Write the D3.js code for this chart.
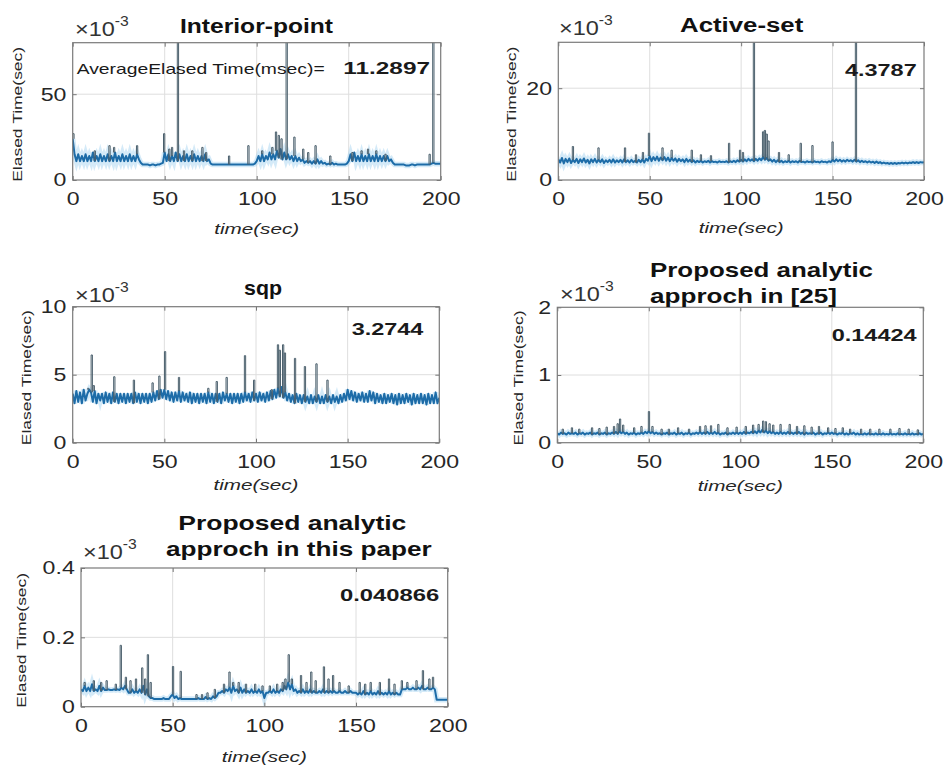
<!DOCTYPE html>
<html>
<head>
<meta charset="utf-8">
<script src="https://cdn.jsdelivr.net/npm/d3@7"></script>
<style>
body{margin:0;background:#fff;}
svg{display:block;font-family:"Liberation Sans",Arial,sans-serif;}
</style>
</head>
<body>
<svg id="graph"></svg>
<script>
// elapsed time per step, units of 1e-3 sec, one sample per second (t = 0..200)
var ipBase = [
 24,15,11,15,11,14,11,15,11,14, 11,16,11,14,11,15,11,14,11,15,
 11,14,11,16,11,14,11,15,11,14, 11,15,11,14,11,15,12,10,9,9,
 9,9,8.5,9,9,8.5,9,9,9.5,10, 16,11,15,11,14,11,16,11,15,11,
 14,11,15,11,14,11,15,11,14,11, 14,11,15,11,12,9.5,9,9,9,9,
 9,9,9,9,9,9,9,9,9,9, 9,9,9,9,9,9,9,9,9,9.5,
 11,14,11,15,11,14,12,16,12,15, 12,17,13,18,12,16,12,15,12,14,
 11,14,11,13,11,12,10,11,10,11, 9.5,11,9.5,12,9.5,11,9.5,10,9,9.5,
 9,10,9,9.5,9,9,9,9,9,9.5, 11,15,11,16,11,14,11,15,11,14,
 11,15,11,14,11,15,11,14,11,14, 11,14,11,12,10,9,9,9,9,9,
 9,8.5,8.5,8.5,9,9,8.5,9,9,9, 9,9,9,9,9,9.5,10,9.5,9.5,9.5,
 9.5];
var ipSpikes = [[0.4,27],[12,17],[20,20],[22.5,19],[35,20],[49.7,27],[52.5,18],[54,19],[57.2,90],
 [60.5,17],[65,17],[70.5,19],[72.5,16],[85,14],[95.5,20],[103,17],[108.5,19],[110.5,28],[112,26],
 [113.5,24],[116.3,90],[120.5,25],[125.3,18],[128,16],[132,20],[140,14],[152,16],[157,17],
 [160.5,18],[165,17],[170,15],[194,15],[196,90]];

var asBase = [
 4.5,3.8,4.8,3.6,4.6,3.9,4.7,3.7,4.4,3.9, 4.6,3.7,4.5,3.9,4.7,3.8,4.4,3.6,4.5,3.9,
 4.6,3.8,4.4,3.9,4.5,3.7,4.3,3.9,4.4,3.8, 4.5,3.8,4.3,3.9,4.4,3.8,4.5,3.9,4.3,3.8,
 4.4,3.9,4.2,3.8,4.4,3.9,4.5,3.8,4.6,4.2, 5.2,4.1,5.0,4.3,5.1,4.2,4.9,4.3,5.0,4.2,
 4.9,4.1,4.8,4.2,4.7,4.0,4.6,4.1,4.5,3.9, 4.6,4.0,4.4,3.9,4.3,3.8,4.2,3.9,4.2,3.8,
 4.1,3.9,4.2,3.8,4.1,3.9,4.0,3.8,4.1,3.9, 4.0,3.9,4.1,3.8,4.1,3.9,4.2,3.9,4.3,4.0,
 4.4,4.0,4.5,4.1,4.6,4.2,4.5,4.1,4.6,4.2, 4.7,4.3,5.0,4.4,4.8,4.2,4.5,4.0,4.4,3.9,
 4.3,3.9,4.2,3.8,4.1,3.9,4.2,3.8,4.1,3.9, 4.1,3.8,4.2,3.9,4.0,3.8,4.1,3.9,4.0,3.8,
 4.1,3.9,4.0,3.8,4.1,3.9,4.0,3.8,4.1,3.9, 4.4,4.0,4.5,4.1,4.4,4.0,4.3,4.0,4.4,4.1,
 4.3,4.0,4.4,4.0,4.3,3.9,4.2,3.9,4.1,3.8, 4.1,3.8,4.0,3.7,4.0,3.7,3.9,3.6,3.8,3.6,
 3.7,3.5,3.7,3.5,3.7,3.5,3.7,3.6,3.8,3.6, 3.8,3.6,3.8,3.7,3.9,3.7,3.9,3.7,3.9,3.8,
 3.9];
var asSpikes = [[8,7.3],[22,7],[36.5,7],[42.5,5.5],[46.3,6],[49.6,10.2],[57,7],[62,6.5],[73,6.5],
 [78,5.5],[83.5,5.3],[93.4,8],[99.4,6.5],[101,6],[107,35],[112,10.5],[113,10.8],[114,10],
 [115,8.5],[120.7,6],[126,5.5],[132.6,8],[139,7.5],[150,8.3],[162.8,35]];

var sqpBase = [
 3.6,2.9,3.8,3.0,3.7,2.9,3.9,3.1,3.6,3.9, 3.7,3.0,3.8,2.9,3.6,3.1,3.6,2.9,3.7,3.0,
 3.6,2.9,3.7,3.0,3.6,2.9,3.6,3.0,3.6,2.9, 3.6,3.0,3.6,2.9,3.7,3.0,3.6,2.9,3.6,3.0,
 3.6,2.9,3.6,3.0,3.7,3.1,3.8,3.2,3.9,3.3, 3.9,3.2,3.8,3.1,3.7,3.0,3.7,3.1,3.8,3.0,
 3.7,3.1,3.6,3.0,3.7,2.9,3.6,3.0,3.6,2.9, 3.6,3.0,3.6,2.9,3.7,3.0,3.6,2.9,3.6,3.0,
 3.6,2.9,3.7,3.1,3.6,3.0,3.6,2.9,3.6,3.0, 3.6,2.9,3.6,3.0,3.7,3.1,3.6,3.0,3.7,3.1,
 3.6,3.0,3.7,3.1,3.6,3.0,3.7,3.1,3.8,3.2, 3.9,3.3,4.0,3.4,4.1,3.3,3.7,3.1,3.6,3.0,
 3.5,2.9,3.6,3.0,3.5,2.9,3.5,3.0,3.4,2.9, 3.5,2.9,3.4,3.0,3.5,2.9,3.4,2.9,3.5,3.0,
 3.4,2.9,3.5,3.0,3.4,2.9,3.5,3.0,3.6,3.1, 3.9,3.2,3.8,3.1,3.7,3.0,3.6,3.1,3.7,3.0,
 3.6,3.0,3.8,3.1,3.7,2.9,3.6,3.0,3.5,2.9, 3.6,2.9,3.5,3.0,3.6,2.9,3.5,2.8,3.6,2.9,
 3.5,2.9,3.6,3.0,3.5,2.8,3.6,2.9,3.5,2.9, 3.6,2.9,3.5,2.8,3.6,2.9,3.5,2.9,3.7,2.9,
 3.3];
var sqpSpikes = [[8.5,4.0],[10.4,6.45],[11.5,4.2],[22.7,4.85],[33.4,4.6],[43.6,4.4],[47.3,4.9],
 [50.4,6.7],[58,4.8],[74,4.0],[78.6,4.5],[84,4.8],[94,6.4],[99,4.6],[108.6,3.9],[112,7.2],
 [113,6.8],[114.8,7.2],[115.8,6.6],[121.3,6.2],[126.7,5.6],[133,5.8],[139,4.6]];

var ref25Base = [
 .14,.12,.15,.13,.14,.12,.15,.13,.14,.13, .15,.12,.14,.13,.15,.12,.14,.13,.15,.12,
 .14,.13,.15,.12,.14,.13,.15,.12,.14,.13, .15,.13,.16,.13,.17,.14,.16,.13,.15,.12,
 .14,.13,.15,.12,.14,.13,.15,.13,.16,.14, .17,.14,.16,.13,.15,.13,.14,.12,.14,.13,
 .15,.12,.14,.13,.15,.12,.14,.13,.15,.12, .14,.13,.15,.12,.14,.13,.15,.13,.16,.13,
 .15,.13,.16,.13,.15,.13,.16,.13,.15,.12, .14,.13,.15,.12,.14,.13,.15,.13,.15,.13,
 .15,.13,.16,.13,.15,.14,.16,.14,.17,.14, .18,.15,.19,.15,.18,.14,.17,.14,.16,.13,
 .15,.13,.16,.13,.15,.13,.16,.13,.15,.13, .15,.13,.16,.13,.15,.12,.15,.13,.14,.13,
 .15,.12,.14,.13,.15,.12,.14,.13,.15,.13, .15,.13,.14,.12,.14,.13,.15,.12,.14,.12,
 .14,.13,.15,.12,.14,.12,.13,.12,.14,.12, .14,.12,.13,.12,.14,.12,.13,.12,.14,.12,
 .13,.12,.14,.12,.13,.12,.14,.12,.13,.12, .14,.12,.13,.12,.14,.12,.13,.12,.14,.12,
 .13];
var ref25Spikes = [[3,.2],[8,.22],[12,.2],[19,.22],[23,.21],[27,.23],[31,.24],[33,.28],[34.3,.35],
 [36,.26],[42,.22],[46,.24],[50.1,.46],[52,.24],[57,.2],[61,.2],[66,.22],[72,.2],[78,.24],[81,.25],
 [84,.25],[88,.27],[93,.22],[98,.23],[103,.24],[107,.26],[110,.27],[112.5,.32],[114,.31],[116,.28],
 [118,.26],[122,.27],[127,.27],[131,.24],[135,.25],[139,.23],[143,.24],[148,.22],[152,.21],
 [156,.22],[160,.2],[166,.2],[171,.2],[176,.2],[182,.2],[187,.21],[192,.2],[197,.19]];

var oursBase = [
 .05,.045,.06,.045,.055,.045,.065,.045,.05,.045, .06,.045,.055,.048,.048,.05,.048,.048,.05,.048,
 .05,.048,.055,.05,.06,.05,.04,.04,.05,.04, .045,.04,.05,.04,.06,.035,.05,.03,.025,.025,
 .022,.022,.022,.022,.022,.025,.022,.022,.022,.03, .035,.025,.03,.022,.025,.022,.022,.022,.022,.022,
 .022,.022,.022,.022,.025,.022,.022,.022,.028,.022, .025,.022,.03,.025,.03,.04,.04,.045,.04,.05,
 .045,.055,.04,.06,.045,.05,.04,.055,.04,.05, .04,.045,.04,.05,.04,.045,.04,.05,.04,.045,
 .025,.04,.04,.045,.04,.05,.04,.045,.04,.05, .045,.06,.05,.07,.05,.065,.045,.05,.04,.045,
 .04,.05,.04,.045,.04,.05,.04,.045,.04,.04, .045,.04,.05,.04,.045,.04,.045,.04,.045,.04,
 .04,.045,.04,.04,.045,.04,.04,.045,.04,.04, .04,.035,.04,.035,.045,.035,.04,.035,.045,.035,
 .04,.035,.045,.035,.04,.035,.04,.035,.045,.035, .04,.035,.04,.035,.035,.05,.05,.05,.055,.05,
 .05,.055,.05,.05,.055,.05,.06,.05,.05,.055, .05,.05,.055,.05,.02,.02,.02,.02,.02,.02,
 .02];
var oursSpikes = [[2,.07],[7,.075],[11,.07],[14,.075],[19,.065],[21.7,.177],[24.5,.085],[27,.075],
 [30,.08],[33.4,.112],[35,.08],[36.5,.15],[38,.07],[50.2,.116],[54.4,.102],[63,.035],[66,.035],
 [69,.04],[73,.05],[78,.065],[81,.1],[83,.07],[86,.07],[90,.065],[95,.065],[99,.06],[103,.06],
 [107,.065],[110,.07],[111.5,.08],[113.3,.15],[115,.08],[120,.09],[123,.07],[125.6,.1],[128,.075],
 [132.5,.115],[135,.08],[137.5,.09],[141,.07],[146,.06],[152,.07],[155,.065],[158,.07],[163,.07],
 [168,.08],[171,.065],[175,.075],[178,.07],[183,.075],[186.5,.104],[190,.08],[192,.085]];

var titles = [["Interior-point"],["Active-set"],["sqp"],["Proposed analytic","approch in [25]"],
              ["Proposed analytic","approch in this paper"]];
var avgLabels = ["11.2897","4.3787","3.2744","0.14424","0.040866"];
var yMax = [80,30,10,2,0.4];
var yTicks = [[0,50],[0,20],[0,5,10],[0,1,2],[0,0.2,0.4]];
var xTicks = [0,50,100,150,200];

var bases = [ipBase, asBase, sqpBase, ref25Base, oursBase];
var spikes = [ipSpikes, asSpikes, sqpSpikes, ref25Spikes, oursSpikes];

// layout of the five axes boxes
var panels = [
 {x0:72.7, x1:440.7, y0:42.7, y1:180, xlabDy:54, ylabX:17.7, expX:75, expY:36,
  tl:[{x:180,y:32.7,len:153,size:19.5}], val:{x:343.3,y:74,len:86.7}},
 {x0:558.3, x1:924, y0:42.3, y1:180, xlabDy:53, ylabX:511.7, expX:559, expY:35,
  tl:[{x:680,y:32,len:123.3,size:19.5}], val:{x:845,y:76,len:71.7}},
 {x0:72.7, x1:439.3, y0:306.7, y1:442.7, xlabDy:47, ylabX:26.7, expX:75, expY:302,
  tl:[{x:244,y:295,len:38,size:21}], val:{x:351.7,y:335,len:71.7}},
 {x0:557.3, x1:923.3, y0:307.3, y1:442.7, xlabDy:48, ylabX:518.3, expX:560, expY:301,
  tl:[{x:650,y:277,len:223,size:21},{x:650,y:303,len:187,size:21}], val:{x:831.7,y:340.7,len:85}},
 {x0:81, x1:447.7, y0:568, y1:706.7, xlabDy:55, ylabX:21.7, expX:83, expY:559,
  tl:[{x:178.3,y:530,len:228,size:21},{x:166,y:555.5,len:265.7,size:21}], val:{x:340,y:600.7,len:99.3}}
];

var svg = d3.select("#graph").attr("width",946).attr("height",767);

function stretched(g, str, x, y, size, len){
    return g.append("text")
            .attr("x",x).attr("y",y)
            .attr("font-size",size)
            .attr("textLength",len)
            .attr("lengthAdjust","spacingAndGlyphs")
            .text(str);
}

panels.forEach(function(p,i){
    var x = d3.scaleLinear().domain([0,200]).range([p.x0,p.x1]);
    var y = d3.scaleLinear().domain([0,yMax[i]]).range([p.y1,p.y0]);
    var g = svg.append("g");

    g.append("clipPath").attr("id","clip"+i)
     .append("rect").attr("x",p.x0).attr("y",p.y0)
     .attr("width",p.x1-p.x0).attr("height",p.y1-p.y0);

    // grid
    g.selectAll(".gx").data(xTicks.slice(1,-1)).join("line")
     .attr("x1",d=>x(d)).attr("x2",d=>x(d)).attr("y1",p.y0).attr("y2",p.y1)
     .attr("stroke","#dedede").attr("stroke-width",1);
    g.selectAll(".gy").data(yTicks[i].filter(d=>d>0 && d<yMax[i])).join("line")
     .attr("x1",p.x0).attr("x2",p.x1).attr("y1",d=>y(d)).attr("y2",d=>y(d))
     .attr("stroke","#dedede").attr("stroke-width",1);

    // series
    var pts = bases[i].map((v,t)=>[t,v]);
    var line = d3.line().x(d=>x(d[0])).y(d=>y(d[1]));
    var plot = g.append("g").attr("clip-path","url(#clip"+i+")");
    plot.append("path").attr("d",line(pts)).attr("fill","none")
        .attr("stroke","#9fd0ef").attr("stroke-width",5.5).attr("opacity",0.45);
    plot.append("path").attr("d",line(pts)).attr("fill","none")
        .attr("stroke","#1d6ca8").attr("stroke-width",2).attr("stroke-linejoin","round");
    plot.selectAll(".spk").data(spikes[i]).join("path")
        .attr("fill","none").attr("stroke","#4a5f6c").attr("stroke-width",1)
        .attr("d",function(d){
            var b = bases[i][Math.round(d[0])];
            return line([[d[0]-0.35,b],[d[0]-0.35,d[1]],[d[0]+0.35,d[1]],[d[0]+0.35,b]]);
        });

    // axes (MATLAB style inward ticks)
    var ax = g.append("g").attr("transform","translate(0,"+p.y1+")")
              .call(d3.axisBottom(x).tickValues(xTicks).tickSizeInner(-4).tickSizeOuter(0).tickPadding(12));
    var ay = g.append("g").attr("transform","translate("+p.x0+",0)")
              .call(d3.axisLeft(y).tickValues(yTicks[i]).tickFormat(d3.format("~g"))
                      .tickSizeInner(-4).tickSizeOuter(0).tickPadding(5));
    g.append("g").attr("transform","translate(0,"+p.y0+")")
     .call(d3.axisTop(x).tickValues(xTicks).tickSizeInner(-4).tickSizeOuter(0).tickFormat(""));
    g.append("g").attr("transform","translate("+p.x1+",0)")
     .call(d3.axisRight(y).tickValues(yTicks[i]).tickSizeInner(-4).tickSizeOuter(0).tickFormat(""));
    g.selectAll(".domain").remove();
    g.selectAll(".tick line").attr("stroke","#777");
    [ax,ay].forEach(function(a){
        a.selectAll("text").attr("font-size",18.5).attr("fill","#262626")
         .attr("font-family","Liberation Sans, Arial, sans-serif")
         .attr("transform","scale(1.25,1)");
    });

    g.append("rect").attr("x",p.x0).attr("y",p.y0)
     .attr("width",p.x1-p.x0).attr("height",p.y1-p.y0)
     .attr("fill","none").attr("stroke","#7a7a7a").attr("stroke-width",1.2);

    // x label
    stretched(g,"time(sec)",(p.x0+p.x1)/2-42.5,p.y1+p.xlabDy,15.5,85)
        .attr("font-style","italic").attr("fill","#262626");

    // y label
    var cy = (p.y0+p.y1)/2+3;
    g.append("text")
     .attr("transform","translate("+(p.ylabX+4.5)+","+cy+") rotate(-90)")
     .attr("x",-67.5).attr("y",0)
     .attr("font-size",13).attr("fill","#262626")
     .attr("textLength",135).attr("lengthAdjust","spacingAndGlyphs")
     .text("Elased Time(sec)");

    // x10^-3 exponent
    var ex = g.append("text")
              .attr("transform","translate("+p.expX+","+p.expY+") scale(1.12,1)")
              .attr("fill","#333");
    ex.append("tspan").attr("font-size",21).text("\u00d710");
    ex.append("tspan").attr("font-size",14).attr("dy",-10).text("-3");

    // title
    titles[i].forEach(function(s,k){
        stretched(g,s,p.tl[k].x,p.tl[k].y,p.tl[k].size,p.tl[k].len)
            .attr("font-weight","bold").attr("fill","#111");
    });

    // average value
    stretched(g,avgLabels[i],p.val.x,p.val.y,17,p.val.len)
        .attr("font-weight","bold").attr("fill","#1a1a1a");
    if(i==0){
        stretched(g,"AverageElased Time(msec)=",76.7,74,15,248).attr("fill","#1a1a1a");
    }
});
</script>
</body>
</html>
